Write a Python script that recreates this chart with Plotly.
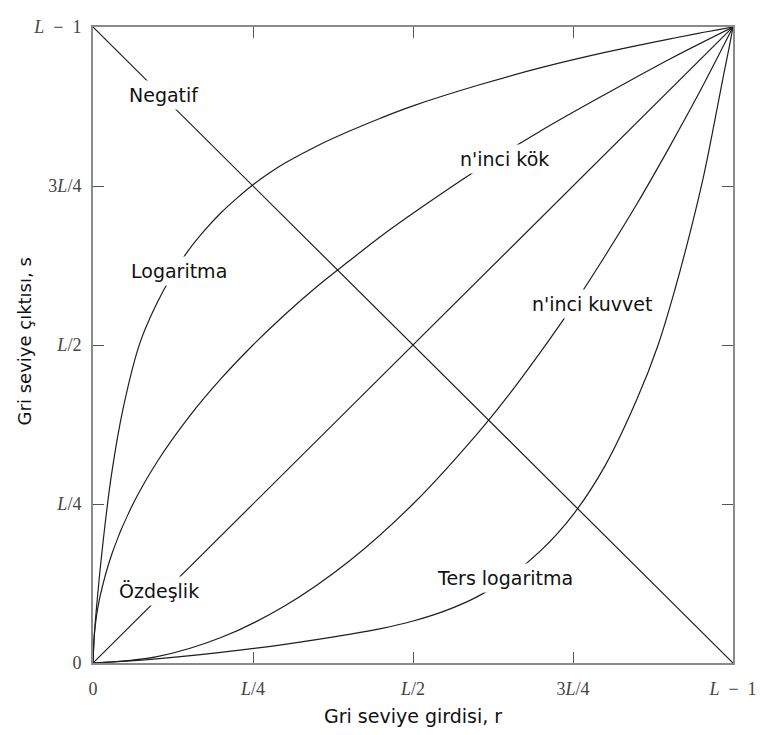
import plotly.graph_objects as go

# Gray levels normalised to L-1 = 1
tick_vals = [0, 0.25, 0.5, 0.75, 1]
tick_text = ["0", "<i>L</i>/4", "<i>L</i>/2", "3<i>L</i>/4", "<i>L</i>\u2002\u2212\u20021"]

identity_r = [0, 1]
identity_s = [0, 1]

negative_r = [0, 1]
negative_s = [1, 0]

log_r = [0, 0.0015, 0.0057, 0.016, 0.029, 0.047, 0.0732, 0.1, 0.125, 0.15, 0.175, 0.2, 0.225, 0.25, 0.275, 0.3, 0.35, 0.4, 0.45, 0.5, 0.6, 0.7, 0.8, 0.9, 1.0]
log_s = [0, 0.035, 0.090, 0.193, 0.297, 0.400, 0.503, 0.566, 0.612, 0.650, 0.681, 0.708, 0.731, 0.752, 0.770, 0.786, 0.813, 0.836, 0.857, 0.876, 0.908, 0.936, 0.960, 0.981, 1.0]

root_r = [0, 0.003, 0.01, 0.03, 0.06, 0.1, 0.15, 0.2, 0.25, 0.3, 0.35, 0.4, 0.45, 0.5, 0.6, 0.7, 0.8, 0.9, 1.0]
root_s = [0, 0.055, 0.100, 0.173, 0.245, 0.316, 0.387, 0.447, 0.500, 0.548, 0.592, 0.632, 0.671, 0.707, 0.775, 0.837, 0.894, 0.949, 1.0]

power_r = [0, 0.1, 0.2, 0.3, 0.4, 0.5, 0.6, 0.65, 0.7, 0.75, 0.8, 0.85, 0.9, 0.95, 1.0]
power_s = [0, 0.010, 0.040, 0.090, 0.160, 0.250, 0.360, 0.422, 0.490, 0.562, 0.640, 0.722, 0.810, 0.902, 1.0]

invlog_r = [0, 0.09, 0.193, 0.297, 0.40, 0.45, 0.5, 0.55, 0.6, 0.65, 0.7, 0.75, 0.8, 0.85, 0.883, 0.91, 0.935, 0.955, 0.971, 0.984, 0.994, 1.0]
invlog_s = [0, 0.0057, 0.016, 0.029, 0.045, 0.054, 0.066, 0.082, 0.104, 0.135, 0.177, 0.233, 0.310, 0.415, 0.500, 0.590, 0.685, 0.770, 0.850, 0.918, 0.968, 1.0]

labels = ["Negatif", "Logaritma", "n'inci kök", "n'inci kuvvet", "Özdeşlik", "Ters logaritma"]
label_r = [0.1106, 0.134, 0.6425, 0.779, 0.1036, 0.644]
label_s = [0.893, 0.616, 0.7926, 0.565, 0.113, 0.133]

line_style = dict(color="#1e1e1e", width=1.2)

fig = go.Figure()
for xs, ys, shape in [
    (identity_r, identity_s, "linear"),
    (negative_r, negative_s, "linear"),
    (log_r, log_s, "spline"),
    (root_r, root_s, "spline"),
    (power_r, power_s, "spline"),
    (invlog_r, invlog_s, "spline"),
]:
    fig.add_trace(go.Scatter(x=xs, y=ys, mode="lines",
                             line=dict(shape=shape, smoothing=1.0, **line_style),
                             hoverinfo="skip", showlegend=False))

for txt, xr, ys in zip(labels, label_r, label_s):
    fig.add_annotation(x=xr, y=ys, text=txt, showarrow=False,
                       xanchor="center", yanchor="middle",
                       font=dict(family="DejaVu Sans", size=19, color="#111111"),
                       bgcolor="white", borderpad=3)

# axis titles
fig.add_annotation(xref="paper", yref="paper", x=0.5, y=-0.084, text="Gri seviye girdisi, r",
                   xanchor="center", yanchor="middle",
                   showarrow=False, font=dict(family="DejaVu Sans", size=19, color="#111111"))
fig.add_annotation(xref="paper", yref="paper", x=-0.1075, y=0.506, text="Gri seviye çıktısı, s",
                   xanchor="center", yanchor="middle",
                   textangle=-90, showarrow=False,
                   font=dict(family="DejaVu Sans", size=18, color="#111111"))

axis_common = dict(
    range=[0, 1], tickvals=tick_vals, ticktext=tick_text,
    ticks="inside", ticklen=11, tickwidth=1, tickcolor="#555555",
    showline=True, linecolor="#8a8a8a", linewidth=2, mirror="ticks",
    showgrid=False, zeroline=False, fixedrange=True,
    tickfont=dict(family="Liberation Serif", size=18, color="#444444"),
)

fig.update_xaxes(**axis_common)
fig.update_yaxes(**axis_common)
fig.update_xaxes(ticklabelstandoff=8)
fig.update_yaxes(ticklabelstandoff=6)

# page body adds an 8px margin, so shrink figure & margins accordingly
fig.update_layout(
    width=758, height=727,
    margin=dict(l=85, r=31, t=9, b=72),
    paper_bgcolor="white", plot_bgcolor="white",
    showlegend=False,
)

fig.write_html("out.html")
